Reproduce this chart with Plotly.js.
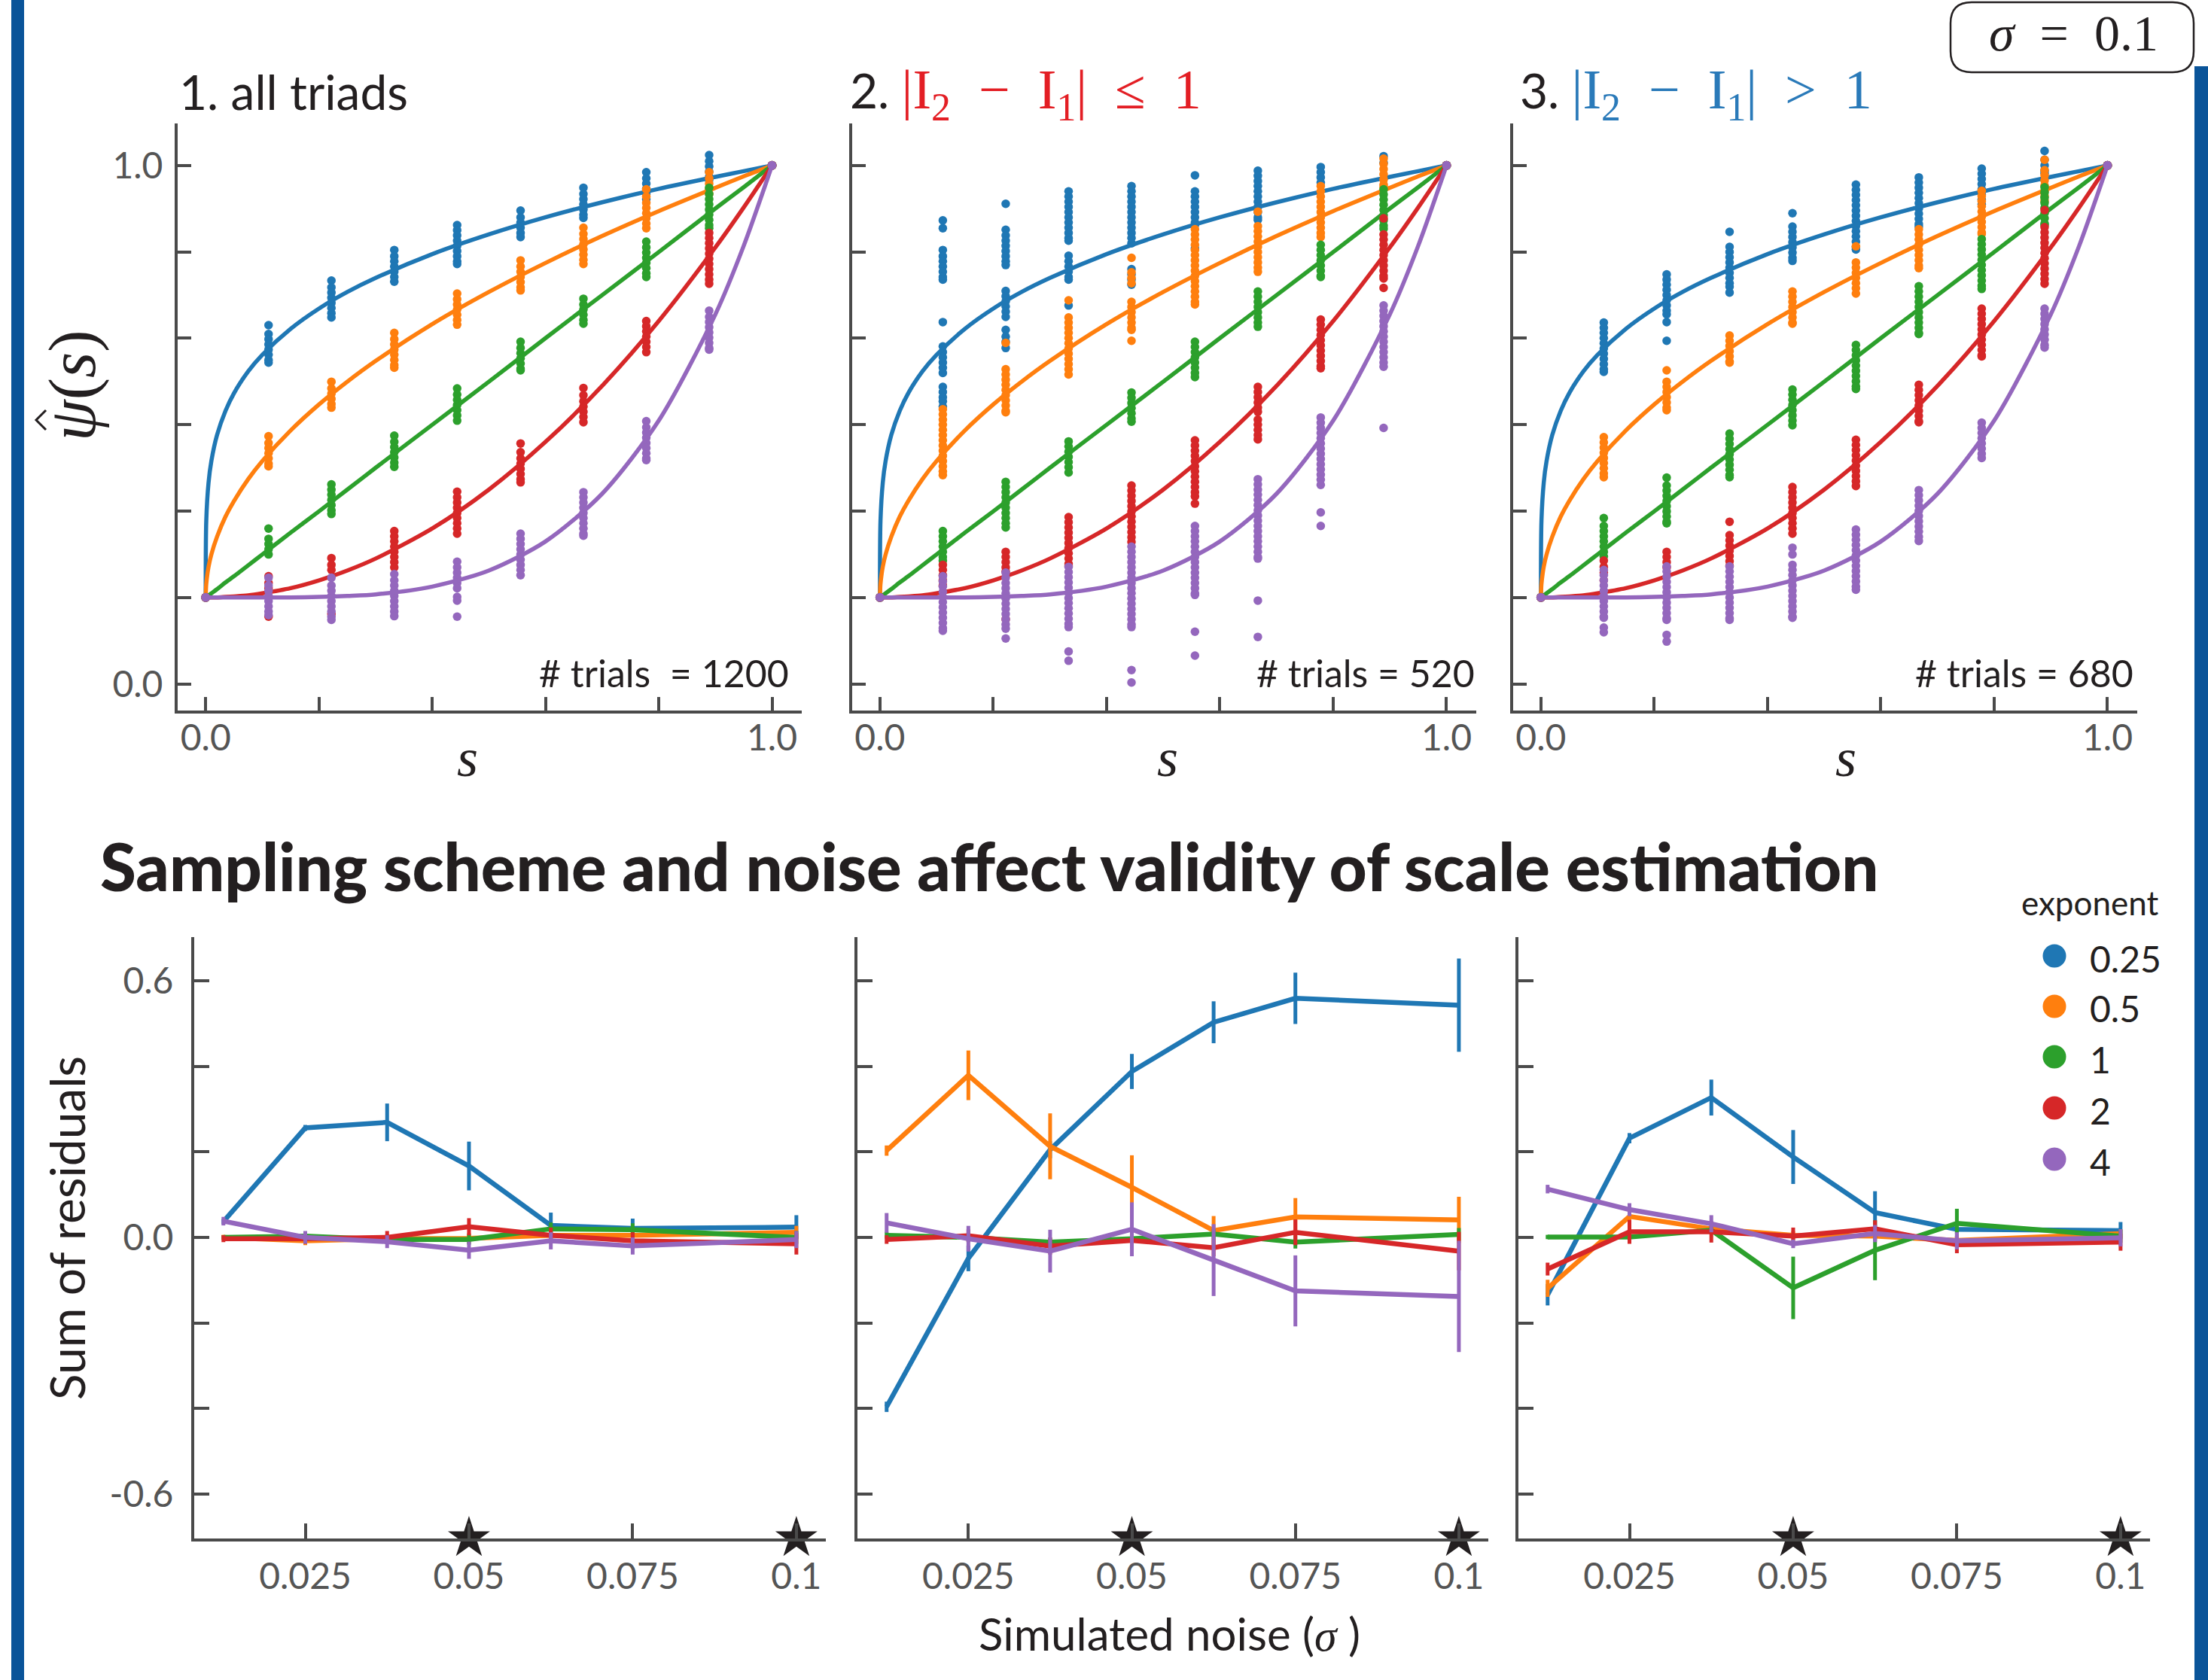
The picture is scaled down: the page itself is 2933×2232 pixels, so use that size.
<!DOCTYPE html>
<html>
<head>
<meta charset="utf-8">
<script src="https://cdn.plot.ly/plotly-3.0.1.min.js"></script>
<style>html,body{margin:0;padding:0;background:#fff;}#chart{width:2933px;height:2232px;}</style>
</head>
<body>
<div id="chart"></div>
<script>
// ---------------- DATA ----------------
const EXPONENTS = ['0.25', '0.5', '1', '2', '4'];
const COLORS = ['#1f77b4', '#ff7f0e', '#2ca02c', '#d62728', '#9467bd'];
const PANEL_TITLES = ['1. all triads', '2. ', '3. '];
const TRIALS = ['# trials\u00a0\u00a0= 1200', '# trials = 520', '# trials = 680'];

// stimulus levels s = k/9 for the 8 inner columns
const LEVELS = [0.111, 0.222, 0.333, 0.444, 0.556, 0.667, 0.778, 0.889];
const END_S = [0, 1];
const END_PSI = [0.167, 1.0];

// fitted curves (same in the three panels)
const CURVE_S = [0, 0.001, 0.005, 0.01, 0.02, 0.035, 0.05, 0.075, 0.1, 0.15, 0.2, 0.25, 0.3, 0.4, 0.5, 0.6, 0.7, 0.8, 0.9, 0.95, 1.0];
const CURVE_E025 = [0.167, 0.315, 0.388, 0.430, 0.480, 0.527, 0.561, 0.603, 0.635, 0.685, 0.724, 0.756, 0.783, 0.829, 0.867, 0.900, 0.929, 0.955, 0.978, 0.989, 1.0];
const CURVE_E05 = [0.167, 0.193, 0.226, 0.250, 0.284, 0.323, 0.353, 0.395, 0.430, 0.489, 0.539, 0.583, 0.623, 0.694, 0.756, 0.812, 0.864, 0.912, 0.957, 0.979, 1.0];
const CURVE_E1 = [0.167, 0.168, 0.171, 0.175, 0.183, 0.196, 0.208, 0.229, 0.250, 0.292, 0.333, 0.375, 0.417, 0.500, 0.583, 0.667, 0.750, 0.833, 0.917, 0.958, 1.0];
const CURVE_E2 = [0.167, 0.167, 0.167, 0.167, 0.167, 0.168, 0.169, 0.171, 0.175, 0.185, 0.200, 0.219, 0.242, 0.300, 0.375, 0.467, 0.575, 0.700, 0.842, 0.919, 1.0];
const CURVE_E4 = [0.167, 0.167, 0.167, 0.167, 0.167, 0.167, 0.167, 0.167, 0.167, 0.167, 0.168, 0.170, 0.173, 0.188, 0.219, 0.275, 0.367, 0.508, 0.713, 0.845, 1.0];

// estimated scale values, panel 1 (all triads), one list per column
const P1_E025 = [[0.692,0.675,0.665,0.655,0.645,0.635,0.625,0.62],[0.778,0.765,0.755,0.745,0.735,0.725,0.715,0.707],[0.837,0.825,0.815,0.805,0.795,0.785,0.776],[0.885,0.875,0.865,0.855,0.845,0.835,0.825,0.815,0.81],[0.913,0.9,0.89,0.88,0.87,0.862],[0.957,0.945,0.935,0.925,0.915,0.905,0.899],[0.987,0.975,0.965,0.955,0.945,0.935],[1.02,1.008,0.998,0.988,0.978,0.972]];
const P1_E05 = [[0.478,0.465,0.455,0.445,0.435,0.425,0.42],[0.583,0.57,0.56,0.55,0.54,0.533],[0.677,0.665,0.655,0.645,0.635,0.625,0.615,0.61],[0.753,0.742,0.732,0.722,0.712,0.702,0.693],[0.817,0.805,0.795,0.785,0.775,0.765,0.759],[0.88,0.868,0.858,0.848,0.838,0.828,0.818,0.81],[0.954,0.94,0.928,0.918,0.908,0.898,0.888,0.879],[0.987,0.975,0.965,0.955,0.945]];
const P1_E1 = [[0.300,0.28,0.27,0.26,0.25],[0.385,0.375,0.365,0.355,0.345,0.335,0.328],[0.479,0.467,0.457,0.447,0.437,0.427,0.419],[0.57,0.558,0.548,0.538,0.528,0.518,0.508],[0.66,0.648,0.638,0.628,0.618,0.608,0.605],[0.743,0.732,0.722,0.712,0.702,0.695],[0.853,0.842,0.832,0.822,0.812,0.802,0.792,0.785],[0.957,0.945,0.935,0.925,0.915,0.905,0.895,0.885,0.879]];
const P1_E2 = [[0.208,0.195,0.185,0.13],[0.243,0.23,0.22,0.135],[0.295,0.285,0.275,0.265,0.255,0.245,0.235,0.225],[0.371,0.36,0.35,0.34,0.33,0.32,0.31,0.30,0.29],[0.464,0.447,0.435,0.425,0.415,0.405,0.395,0.389],[0.571,0.557,0.545,0.535,0.525,0.515,0.505],[0.7,0.69,0.68,0.67,0.66,0.65,0.64],[0.87,0.86,0.85,0.84,0.83,0.82,0.81,0.80,0.79,0.78,0.772]];
const P1_E4 = [[0.205,0.19,0.18,0.17,0.16,0.15,0.14,0.133],[0.205,0.19,0.18,0.17,0.16,0.15,0.14,0.13,0.124],[0.212,0.2,0.19,0.18,0.17,0.16,0.15,0.14,0.131],[0.236,0.225,0.215,0.205,0.195,0.185,0.168,0.161,0.13],[0.29,0.28,0.27,0.26,0.25,0.24,0.23,0.22,0.21],[0.37,0.36,0.35,0.34,0.33,0.32,0.31,0.30,0.29,0.286],[0.507,0.495,0.485,0.475,0.465,0.455,0.445,0.435,0.432],[0.72,0.708,0.698,0.688,0.678,0.668,0.658,0.648,0.645]];

// panel 2 (|I2 - I1| <= 1)
const P2_E025 = [[0.894,0.879,0.837,0.825,0.815,0.805,0.795,0.785,0.78,0.698,0.651,0.64,0.63,0.62,0.61,0.60,0.573,0.563,0.553,0.545,0.535],[0.926,0.876,0.865,0.855,0.845,0.835,0.825,0.815,0.808,0.758,0.748,0.738,0.728,0.718,0.708,0.683,0.67,0.66,0.648],[0.95,0.94,0.93,0.92,0.91,0.90,0.89,0.88,0.87,0.86,0.855,0.826,0.815,0.805,0.795,0.785,0.78,0.73],[0.96,0.95,0.94,0.93,0.92,0.91,0.90,0.89,0.88,0.87,0.86,0.85,0.80,0.79,0.78,0.77],[0.981,0.95,0.94,0.93,0.92,0.91,0.90,0.89,0.885,0.84],[0.99,0.98,0.97,0.96,0.95,0.94,0.93,0.92,0.91,0.90,0.895],[0.997,0.987,0.977,0.967],[1.018,1.005]];
const P2_E05 = [[0.53,0.52,0.51,0.50,0.49,0.48,0.47,0.46,0.45,0.44,0.43,0.42,0.41,0.403],[0.658,0.607,0.597,0.587,0.577,0.567,0.557,0.547,0.537,0.527,0.524],[0.74,0.707,0.697,0.687,0.677,0.667,0.657,0.647,0.637,0.627,0.617,0.607,0.597],[0.822,0.794,0.783,0.773,0.737,0.727,0.717,0.707,0.697,0.687,0.683,0.662],[0.877,0.867,0.857,0.847,0.837,0.827,0.817,0.807,0.797,0.787,0.777,0.767,0.757,0.747,0.737,0.732],[0.911,0.883,0.873,0.863,0.853,0.843,0.833,0.823,0.813,0.803,0.795],[0.96,0.95,0.94,0.93,0.92,0.91,0.90,0.89,0.88,0.87,0.862],[1.013,1.003,0.993,0.983,0.973,0.963,0.958]];
const P2_E1 = [[0.295,0.285,0.275,0.265,0.255,0.245,0.238],[0.39,0.38,0.37,0.36,0.35,0.34,0.33,0.32,0.31,0.302],[0.468,0.458,0.448,0.438,0.428,0.418,0.408],[0.562,0.552,0.542,0.532,0.522,0.512,0.506],[0.66,0.65,0.64,0.63,0.62,0.61,0.6,0.592],[0.757,0.747,0.737,0.727,0.717,0.707,0.697,0.689],[0.847,0.837,0.827,0.817,0.807,0.797,0.787,0.785],[0.954,0.944,0.934,0.924,0.914,0.904,0.894,0.884,0.878]];
const P2_E2 = [[0.23,0.22,0.21,0.2,0.19],[0.255,0.245,0.235,0.225,0.217,0.125],[0.322,0.312,0.302,0.292,0.282,0.272,0.262,0.252,0.242,0.232,0.228],[0.383,0.373,0.363,0.353,0.343,0.333,0.323,0.313,0.303,0.293,0.283,0.274],[0.47,0.46,0.45,0.44,0.43,0.42,0.41,0.40,0.39,0.38,0.37,0.362,0.348],[0.573,0.563,0.553,0.543,0.533,0.525,0.51,0.50,0.49,0.48,0.472],[0.703,0.693,0.683,0.673,0.663,0.653,0.643,0.633,0.623,0.613,0.609],[0.898,0.867,0.857,0.847,0.837,0.827,0.817,0.807,0.797,0.787,0.782,0.764]];
const P2_E4 = [[0.208,0.198,0.188,0.178,0.168,0.158,0.148,0.138,0.128,0.118,0.108,0.103],[0.215,0.205,0.195,0.185,0.175,0.165,0.155,0.145,0.135,0.125,0.115,0.107,0.088],[0.226,0.216,0.206,0.196,0.186,0.176,0.166,0.156,0.146,0.136,0.126,0.116,0.11,0.063,0.045],[0.265,0.255,0.245,0.235,0.225,0.215,0.205,0.195,0.185,0.175,0.165,0.155,0.145,0.135,0.125,0.115,0.11,0.027,0.003],[0.305,0.295,0.285,0.275,0.265,0.255,0.245,0.235,0.225,0.215,0.205,0.195,0.185,0.175,0.172,0.101,0.055],[0.395,0.385,0.375,0.365,0.355,0.345,0.335,0.325,0.315,0.305,0.295,0.285,0.275,0.265,0.255,0.245,0.242,0.161,0.091],[0.514,0.504,0.494,0.484,0.474,0.464,0.454,0.444,0.434,0.424,0.414,0.404,0.394,0.384,0.331,0.305],[0.73,0.72,0.71,0.70,0.69,0.68,0.67,0.66,0.65,0.64,0.63,0.62,0.612,0.494]];

// panel 3 (|I2 - I1| > 1)
const P3_E025 = [[0.697,0.687,0.677,0.667,0.657,0.647,0.637,0.627,0.617,0.607,0.602],[0.79,0.78,0.77,0.76,0.75,0.74,0.73,0.72,0.713,0.698,0.662],[0.872,0.843,0.833,0.823,0.813,0.803,0.793,0.783,0.773,0.766,0.755],[0.908,0.882,0.872,0.862,0.852,0.842,0.832,0.822,0.816],[0.963,0.953,0.943,0.933,0.923,0.913,0.903,0.893,0.883,0.873,0.863,0.853,0.843,0.838],[0.977,0.967,0.957,0.947,0.937,0.927,0.917,0.907,0.897,0.887,0.882],[0.994,0.984,0.974,0.964,0.954,0.944,0.934,0.925],[1.028,1.011,1.0,0.99,0.985]];
const P3_E05 = [[0.476,0.466,0.456,0.446,0.436,0.426,0.416,0.406,0.399],[0.605,0.583,0.573,0.563,0.553,0.543,0.533,0.528],[0.672,0.662,0.652,0.642,0.632,0.622,0.62],[0.757,0.747,0.737,0.727,0.717,0.707,0.697,0.695],[0.844,0.813,0.803,0.793,0.783,0.773,0.763,0.753],[0.877,0.867,0.857,0.847,0.837,0.827,0.817,0.807,0.802],[0.951,0.941,0.931,0.921,0.911,0.901,0.891,0.881,0.871,0.868],[1.011,0.991,0.981,0.971,0.961,0.951,0.941,0.932]];
const P3_E1 = [[0.32,0.305,0.295,0.285,0.275,0.265,0.255,0.246],[0.398,0.383,0.373,0.363,0.353,0.343,0.333,0.323,0.313,0.31],[0.483,0.473,0.463,0.453,0.443,0.433,0.423,0.413,0.403,0.399],[0.568,0.558,0.548,0.538,0.528,0.518,0.508,0.499],[0.654,0.644,0.634,0.624,0.614,0.604,0.594,0.584,0.574,0.569],[0.767,0.757,0.747,0.737,0.727,0.717,0.707,0.697,0.687,0.677,0.675],[0.858,0.848,0.838,0.828,0.818,0.808,0.798,0.788,0.778,0.768,0.762],[0.958,0.948,0.938,0.928,0.918,0.908,0.898,0.888,0.885]];
const P3_E2 = [[0.238,0.226,0.215,0.2],[0.255,0.245,0.235,0.225],[0.313,0.287,0.277,0.267,0.257,0.247,0.237,0.228],[0.38,0.37,0.36,0.35,0.34,0.33,0.32,0.31,0.30,0.29],[0.471,0.461,0.451,0.441,0.431,0.421,0.411,0.401,0.391,0.382],[0.577,0.567,0.557,0.547,0.537,0.527,0.517,0.507,0.505],[0.724,0.714,0.704,0.694,0.684,0.674,0.664,0.654,0.644,0.634,0.632],[0.914,0.881,0.871,0.861,0.851,0.841,0.831,0.821,0.811,0.801,0.791,0.781,0.772]];
const P3_E4 = [[0.22,0.21,0.20,0.19,0.18,0.17,0.16,0.15,0.14,0.13,0.128,0.109,0.1],[0.227,0.217,0.207,0.197,0.187,0.177,0.167,0.157,0.147,0.137,0.127,0.124,0.095,0.082],[0.227,0.217,0.207,0.197,0.187,0.177,0.167,0.157,0.147,0.137,0.127,0.124],[0.263,0.25,0.23,0.22,0.21,0.20,0.19,0.18,0.17,0.16,0.15,0.14,0.13,0.128],[0.298,0.288,0.278,0.268,0.258,0.248,0.238,0.228,0.218,0.208,0.198,0.188,0.182],[0.374,0.364,0.354,0.344,0.334,0.324,0.314,0.304,0.294,0.284,0.276],[0.504,0.494,0.484,0.474,0.464,0.454,0.444,0.436],[0.724,0.714,0.704,0.694,0.684,0.674,0.664,0.654,0.649]];

// bottom row: sum of residuals vs simulated noise
const NOISE = [0.0125, 0.025, 0.0375, 0.05, 0.0625, 0.075, 0.1];
const STAR_NOISE = [0.05, 0.1];
const R1_E025 = [0.037, 0.256, 0.269, 0.167, 0.028, 0.021, 0.024];
const R1_E025_ERR = [0.006, 0.007, 0.044, 0.057, 0.03, 0.023, 0.028];
const R1_E05 = [0.0, -0.008, -0.003, -0.002, 0.005, 0.005, 0.012];
const R1_E05_ERR = [0.006, 0.01, 0.01, 0.012, 0.012, 0.012, 0.015];
const R1_E1 = [0.0, 0.003, -0.005, -0.005, 0.02, 0.018, 0.0];
const R1_E1_ERR = [0.005, 0.008, 0.01, 0.012, 0.015, 0.015, 0.015];
const R1_E2 = [-0.003, -0.003, 0.0, 0.025, 0.005, -0.008, -0.015];
const R1_E2_ERR = [0.008, 0.012, 0.015, 0.02, 0.018, 0.02, 0.025];
const R1_E4 = [0.038, 0.0, -0.01, -0.03, -0.008, -0.02, -0.005];
const R1_E4_ERR = [0.01, 0.015, 0.015, 0.02, 0.02, 0.02, 0.02];

const R2_E025 = [-0.396, -0.049, 0.205, 0.388, 0.503, 0.559, 0.543];
const R2_E025_ERR = [0.012, 0.03, 0.02, 0.041, 0.049, 0.06, 0.109];
const R2_E05 = [0.203, 0.379, 0.213, 0.117, 0.016, 0.048, 0.041];
const R2_E05_ERR = [0.012, 0.058, 0.077, 0.075, 0.034, 0.044, 0.054];
const R2_E1 = [0.005, 0.0, -0.011, -0.003, 0.008, -0.011, 0.007];
const R2_E1_ERR = [0.008, 0.01, 0.01, 0.012, 0.012, 0.015, 0.015];
const R2_E2 = [-0.005, 0.004, -0.02, -0.007, -0.024, 0.012, -0.032];
const R2_E2_ERR = [0.01, 0.015, 0.02, 0.02, 0.02, 0.03, 0.045];
const R2_E4 = [0.034, -0.003, -0.032, 0.019, -0.053, -0.125, -0.138];
const R2_E4_ERR = [0.023, 0.03, 0.05, 0.063, 0.084, 0.083, 0.13];

const R3_E025 = [-0.134, 0.232, 0.327, 0.188, 0.058, 0.019, 0.016];
const R3_E025_ERR = [0.025, 0.012, 0.042, 0.063, 0.05, 0.01, 0.02];
const R3_E05 = [-0.119, 0.049, 0.02, 0.005, 0.003, -0.007, 0.009];
const R3_E05_ERR = [0.02, 0.015, 0.01, 0.01, 0.01, 0.01, 0.01];
const R3_E1 = [0.001, 0.001, 0.017, -0.118, -0.03, 0.033, 0.003];
const R3_E1_ERR = [0.005, 0.005, 0.01, 0.073, 0.07, 0.034, 0.015];
const R3_E2 = [-0.074, 0.013, 0.013, 0.003, 0.02, -0.017, -0.011];
const R3_E2_ERR = [0.015, 0.028, 0.025, 0.02, 0.02, 0.02, 0.02];
const R3_E4 = [0.113, 0.065, 0.032, -0.015, 0.009, -0.008, -0.001];
const R3_E4_ERR = [0.01, 0.015, 0.02, 0.01, 0.02, 0.02, 0.02];

// ---------------- BUILD ----------------
const W = 2933, H = 2232;
const fx = v => v / W;
const fy = v => 1 - v / H;
const AX = '#4a4a4a';
const TXT = '#231f20';
const TICKC = '#555555';
const SANS = 'Lato, "Open Sans", sans-serif';
const SERIF = '"Liberation Serif", "DejaVu Serif", serif';

const CURVES = [CURVE_E025, CURVE_E05, CURVE_E1, CURVE_E2, CURVE_E4];
const TOP = [
  [P1_E025, P1_E05, P1_E1, P1_E2, P1_E4],
  [P2_E025, P2_E05, P2_E1, P2_E2, P2_E4],
  [P3_E025, P3_E05, P3_E1, P3_E2, P3_E4]
];
const BOT = [
  [[R1_E025, R1_E025_ERR], [R1_E05, R1_E05_ERR], [R1_E1, R1_E1_ERR], [R1_E2, R1_E2_ERR], [R1_E4, R1_E4_ERR]],
  [[R2_E025, R2_E025_ERR], [R2_E05, R2_E05_ERR], [R2_E1, R2_E1_ERR], [R2_E2, R2_E2_ERR], [R2_E4, R2_E4_ERR]],
  [[R3_E025, R3_E025_ERR], [R3_E05, R3_E05_ERR], [R3_E1, R3_E1_ERR], [R3_E2, R3_E2_ERR], [R3_E4, R3_E4_ERR]]
];

const traces = [];
for (let p = 0; p < 3; p++) {
  const xa = 'x' + (p === 0 ? '' : p + 1), ya = 'y' + (p === 0 ? '' : p + 1);
  for (let e = 0; e < 5; e++) {
    const xs = [], ys = [];
    TOP[p][e].forEach((col, k) => col.forEach(v => { xs.push(LEVELS[k]); ys.push(v); }));
    traces.push({type: 'scatter', mode: 'markers', x: xs, y: ys, xaxis: xa, yaxis: ya,
      marker: {size: 11.5, color: COLORS[e], line: {width: 0}}, showlegend: false, hoverinfo: 'skip'});
    traces.push({type: 'scatter', mode: 'lines', x: CURVE_S, y: CURVES[e], xaxis: xa, yaxis: ya,
      line: {color: COLORS[e], width: 5.5, shape: 'spline', smoothing: 0.8}, showlegend: false, hoverinfo: 'skip'});
    traces.push({type: 'scatter', mode: 'markers', x: END_S, y: END_PSI, xaxis: xa, yaxis: ya,
      marker: {size: 12, color: COLORS[e]}, showlegend: false, hoverinfo: 'skip', cliponaxis: false});
  }
}
for (let p = 0; p < 3; p++) {
  const xa = 'x' + (p + 4), ya = 'y' + (p + 4);
  for (let e = 0; e < 5; e++) {
    traces.push({type: 'scatter', mode: 'lines', x: NOISE, y: BOT[p][e][0], xaxis: xa, yaxis: ya,
      line: {color: COLORS[e], width: 6.5},
      error_y: {type: 'data', array: BOT[p][e][1], visible: true, color: COLORS[e], thickness: 5, width: 0},
      showlegend: false, hoverinfo: 'skip'});
  }
  traces.push({type: 'scatter', mode: 'markers', x: STAR_NOISE, y: [-0.703, -0.703], xaxis: xa, yaxis: ya,
    marker: {symbol: 'star', size: 42, color: TXT, line: {width: 0}}, cliponaxis: false, showlegend: false, hoverinfo: 'skip'});
}

function baseAxis() {
  return {showline: true, linecolor: AX, linewidth: 4, ticks: 'inside', ticklen: 18, tickwidth: 4, tickcolor: AX,
    showgrid: false, zeroline: false, fixedrange: true, tickfont: {family: SANS, size: 48, color: TICKC}};
}
function minorTicks(vals, len) {
  return {tickmode: 'array', tickvals: vals, ticks: 'inside', ticklen: len, tickwidth: 4, tickcolor: AX, showgrid: false};
}
const layout = {
  width: W, height: H, margin: {l: 0, r: 0, t: 0, b: 0}, paper_bgcolor: '#fff', plot_bgcolor: 'rgba(0,0,0,0)',
  font: {family: SANS, color: TXT}, showlegend: false, shapes: [], annotations: []
};
const TOPX = [[236, 1065], [1131.6, 1961], [2009.6, 2839]];
const BOTX = [[258, 1097], [1139, 1977], [2017, 2856]];
for (let p = 0; p < 3; p++) {
  const sx = p === 0 ? '' : String(p + 1);
  layout['xaxis' + sx] = Object.assign(baseAxis(), {domain: [fx(TOPX[p][0]), fx(TOPX[p][1])], anchor: 'y' + sx,
    range: [-0.0495, 1.0525], tickmode: 'array', tickvals: [0, 1.0], ticktext: ['0.0', '1.0'], ticklabelstandoff: -9,
    minor: minorTicks([0.2, 0.4, 0.6, 0.8], 18)});
  layout['yaxis' + sx] = Object.assign(baseAxis(), {domain: [fy(944), fy(164)], anchor: 'x' + sx,
    range: [-0.051, 1.081], tickmode: 'array', tickvals: [0, 1], ticktext: ['0.0', '1.0'],
    showticklabels: p === 0, ticklabelstandoff: 6, minor: minorTicks([1/6, 2/6, 3/6, 4/6, 5/6], 18)});
  const bx = String(p + 4);
  layout['xaxis' + bx] = Object.assign(baseAxis(), {domain: [fx(BOTX[p][0]), fx(BOTX[p][1])], anchor: 'y' + bx,
    range: [0.00804, 0.1045], tickmode: 'array', tickvals: [0.025, 0.05, 0.075, 0.1], ticktext: ['0.025', '0.05', '0.075', '0.1'],
    ticklen: 20, ticklabelstandoff: 6});
  layout['yaxis' + bx] = Object.assign(baseAxis(), {domain: [fy(2043.5), fy(1244.5)], anchor: 'x' + bx,
    range: [-0.703, 0.703], tickmode: 'array', tickvals: [-0.6, 0, 0.6], ticktext: ['-0.6', '0.0', '0.6'], ticklen: 20,
    showticklabels: p === 0, ticklabelstandoff: 14, minor: minorTicks([-0.4, -0.2, 0.2, 0.4], 20)});
}

// side bars and sigma box
layout.shapes.push({type: 'rect', xref: 'paper', yref: 'paper', x0: fx(15), x1: fx(32), y0: 0, y1: 1, fillcolor: '#0a5499', line: {width: 0}, layer: 'below'});
layout.shapes.push({type: 'rect', xref: 'paper', yref: 'paper', x0: fx(2915), x1: 1, y0: 0, y1: fy(88), fillcolor: '#0a5499', line: {width: 0}, layer: 'below'});
(function () {
  const L = 2591, R = 2914, T = 3, B = 96, r = 28;
  const P = (a, b) => fx(a) + ',' + fy(b);
  const path = 'M' + P(L + r, T) + ' L' + P(R - r, T) + ' Q' + P(R, T) + ' ' + P(R, T + r) +
    ' L' + P(R, B - r) + ' Q' + P(R, B) + ' ' + P(R - r, B) + ' L' + P(L + r, B) + ' Q' + P(L, B) + ' ' + P(L, B - r) +
    ' L' + P(L, T + r) + ' Q' + P(L, T) + ' ' + P(L + r, T) + ' Z';
  layout.shapes.push({type: 'path', xref: 'paper', yref: 'paper', path: path, line: {color: TXT, width: 2.5}, fillcolor: 'rgba(0,0,0,0)'});
  // hat accent over psi in the rotated axis label
  const hat = 'M' + P(61, 545) + ' L' + P(48, 558) + ' L' + P(61, 571);
  layout.shapes.push({type: 'path', xref: 'paper', yref: 'paper', path: hat, line: {color: TXT, width: 3}});
})();

// legend markers
const LEG_Y = [1270, 1337, 1404, 1472, 1540];
EXPONENTS.forEach((lab, i) => {
  layout.shapes.push({type: 'circle', xref: 'paper', yref: 'paper', xsizemode: 'pixel', ysizemode: 'pixel',
    xanchor: fx(2729), yanchor: fy(LEG_Y[i]), x0: -15.5, x1: 15.5, y0: -15.5, y1: 15.5, fillcolor: COLORS[i], line: {width: 0}});
  layout.annotations.push({xref: 'paper', yref: 'paper', x: fx(2774), y: fy(LEG_Y[i] + 3), xanchor: 'left', yanchor: 'middle',
    text: lab, showarrow: false, font: {family: SANS, size: 48, color: TXT}});
});

function ann(text, x, y, xa, ya, font, extra) {
  layout.annotations.push(Object.assign({xref: 'paper', yref: 'paper', x: fx(x), y: fy(y), xanchor: xa, yanchor: ya,
    text: text, showarrow: false, font: font}, extra || {}));
}
const mathRed = '<span style="color:#e31e24;font-family:Liberation Serif;font-size:74px">|I<sub>2</sub>\u2002\u2212\u2002I<sub>1</sub>|\u2002\u2264\u20021</span>';
const mathBlue = '<span style="color:#2a7ab9;font-family:Liberation Serif;font-size:74px">|I<sub>2</sub>\u2002\u2212\u2002I<sub>1</sub>|\u2002&gt;\u20021</span>';
ann(PANEL_TITLES[0], 236, 121, 'left', 'middle', {family: SANS, size: 64, color: TXT});
ann(PANEL_TITLES[1] + mathRed, 1127, 124, 'left', 'middle', {family: SANS, size: 64, color: TXT});
ann(PANEL_TITLES[2] + mathBlue, 2017, 124, 'left', 'middle', {family: SANS, size: 64, color: TXT});
ann('<i>\u03c3</i>\u2002=\u20020.1', 2754, 44, 'center', 'middle', {family: SERIF, size: 68, color: TXT});
ann(TRIALS[0], 1050, 894, 'right', 'middle', {family: SANS, size: 50, color: TXT});
ann(TRIALS[1], 1961, 894, 'right', 'middle', {family: SANS, size: 50, color: TXT});
ann(TRIALS[2], 2836, 894, 'right', 'middle', {family: SANS, size: 50, color: TXT});
[621, 1551, 2452].forEach(x => ann('<i>s</i>', x, 1007, 'center', 'middle', {family: SERIF, size: 72, color: TXT}));
ann('<i>\u03c8</i>(<i>s</i>)', 97, 512, 'center', 'middle', {family: SERIF, size: 88, color: TXT}, {textangle: -90});
ann('Sampling scheme and noise affect validity of scale estimation', 131, 1150, 'left', 'middle',
  {family: SANS, size: 87, color: TXT, weight: 900});
ann('Sum of residuals', 88, 1632, 'center', 'middle', {family: SANS, size: 64, color: TXT}, {textangle: -90});
ann('Simulated noise (<span style="font-family:Liberation Serif"><i>\u03c3</i></span> )', 1553, 2170, 'center', 'middle',
  {family: SANS, size: 60, color: TXT});
ann('exponent', 2683, 1199, 'left', 'middle', {family: SANS, size: 44, color: TXT});

Plotly.newPlot('chart', traces, layout, {displayModeBar: false, staticPlot: true});
</script>
</body>
</html>
